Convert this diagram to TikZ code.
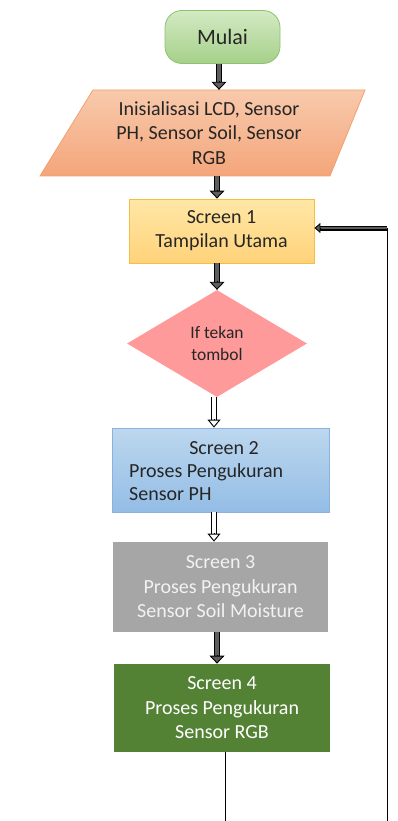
\documentclass[tikz,border=0pt]{standalone}
\usepackage{fontspec}
\setmainfont{Carlito}
\usetikzlibrary{shapes.geometric,arrows.meta,calc}
\definecolor{mulaiTop}{HTML}{D3EAC3}
\definecolor{mulaiBot}{HTML}{A6D08A}
\definecolor{mulaiLine}{HTML}{8CC26C}
\definecolor{paraTop}{HTML}{F8CAAC}
\definecolor{paraBot}{HTML}{F4A57A}
\definecolor{paraLine}{HTML}{F2A06E}
\definecolor{sOneTop}{HTML}{FFE7A6}
\definecolor{sOneBot}{HTML}{FFD27A}
\definecolor{sOneLine}{HTML}{F4BE45}
\definecolor{diaFill}{HTML}{FF9A9A}
\definecolor{sTwoTop}{HTML}{BDD7EE}
\definecolor{sTwoBot}{HTML}{93BDE6}
\definecolor{sTwoLine}{HTML}{8AB2DE}
\definecolor{sThree}{HTML}{A6A6A6}
\definecolor{sThreeText}{HTML}{F2F2F2}
\definecolor{sFour}{HTML}{548235}
\definecolor{arrowgray}{HTML}{5E5E5E}
\tikzset{
  txt/.style={font=\fontsize{20}{24.5}\selectfont, align=center, text=black!85},
  boxbase/.style={txt, rectangle, inner sep=0pt, line width=0.8pt},
  loopline/.style={line width=0.8pt, draw=black}
}
% block arrow between named coordinates: #1 start, #2 end, #3 inner colour,
% #4 outer shaft width, #5 inner shaft width, #6 head width, #7 head length
\newcommand\blockarr[7]{%
  \draw[line width=#4, draw=black, shorten >=#7-2pt] (#1) -- (#2);
  \draw[line width=#5, draw=#3, shorten >=#7-3pt] (#1) -- (#2);
  \draw[line width=0.9pt, draw=black,
    -{Triangle[width=#6,length=#7,fill=#3]}] ($(#2)!#7+1pt!(#1)$) -- (#2);
}
\begin{document}
\begin{tikzpicture}[x=1pt,y=-1pt]
\useasboundingbox (0,0) rectangle (398,821);

% Start
\node[boxbase, draw=mulaiLine, top color=mulaiTop, bottom color=mulaiBot,
      rounded corners=17pt, minimum width=115pt, minimum height=53pt,
      font=\fontsize{22}{26}\selectfont] (mul) at (222.5,37) {Mulai};

% Parallelogram
\shade[top color=paraTop, bottom color=paraBot, draw=paraLine, line width=0.8pt]
  (93,90) -- (365,90) -- (330,176) -- (40,176) -- cycle;
\node[txt, minimum height=86pt, inner sep=0pt] (para) at (209,133)
  {Inisialisasi LCD, Sensor\\PH, Sensor Soil, Sensor\\RGB};

% Screen 1
\node[boxbase, draw=sOneLine, top color=sOneTop, bottom color=sOneBot,
      minimum width=185pt, minimum height=64pt,
      font=\fontsize{20}{24}\selectfont] (s1) at (221.5,231)
  {Screen 1\\Tampilan Utama};

% Decision
\node[txt, diamond, aspect=1.68, fill=diaFill, inner sep=0pt,
      minimum width=180pt, minimum height=107pt,
      font=\fontsize{17.5}{22}\selectfont] (dia) at (217,343.5)
  {If tekan\\tombol};

% Screen 2
\node[boxbase, draw=sTwoLine, top color=sTwoTop, bottom color=sTwoBot,
      minimum width=217pt, minimum height=84pt] (s2) at (220.5,470) {};
\node[txt] (s2a) at (224,448) {Screen 2};
\node[txt, align=left, anchor=west, inner sep=0pt,
      font=\fontsize{20}{22.5}\selectfont] (s2b) at (129,482)
  {Proses Pengukuran\\Sensor PH};

% Screen 3
\node[boxbase, fill=sThree, text=sThreeText,
      minimum width=215pt, minimum height=90pt] (s3) at (220.5,587)
  {Screen 3\\Proses Pengukuran\\Sensor Soil Moisture};

% Screen 4
\node[boxbase, fill=sFour, text=white,
      minimum width=216pt, minimum height=88pt] (s4) at (222,708)
  {Screen 4\\Proses Pengukuran\\Sensor RGB};

% Arrow end points
\coordinate (xa) at (219,0);
\coordinate (xb) at (217,0);
\coordinate (xc) at (214,0);
\coordinate (xd) at (217,0);
\coordinate (a1s) at (mul.south -| xa);  \coordinate (a1e) at (para.north -| xa);
\coordinate (a2s) at (para.south -| xb); \coordinate (a2e) at (s1.north -| xb);
\coordinate (a3s) at (s1.south -| xb);   \coordinate (a3e) at (dia.north -| xb);
\coordinate (a4s) at (dia.south -| xc);  \coordinate (a4e) at (s2.north -| xc);
\coordinate (a5s) at (s2.south -| xc);   \coordinate (a5e) at (s3.north -| xc);
\coordinate (a6s) at (s3.south -| xd);   \coordinate (a6e) at (s4.north -| xd);

\blockarr{a1s}{a1e}{arrowgray}{5.8pt}{3.4pt}{15pt}{8pt}
\blockarr{a2s}{a2e}{arrowgray}{5.8pt}{3.4pt}{15pt}{8pt}
\blockarr{a3s}{a3e}{arrowgray}{5.8pt}{3.4pt}{15pt}{8pt}
\blockarr{a4s}{a4e}{white}{5.8pt}{3.4pt}{13pt}{8pt}
\blockarr{a5s}{a5e}{white}{5.8pt}{3.4pt}{13pt}{8pt}
\blockarr{a6s}{a6e}{arrowgray}{5.8pt}{3.4pt}{15pt}{8pt}

% Loop back
\coordinate (b1) at (225,821);
\coordinate (br) at (387,821);
\coordinate (cr) at (387,228);
\coordinate (ce) at (s1.east |- cr);
\draw[loopline] (s4.south -| b1) -- (b1);
\draw[loopline] (br) -- (cr);
\blockarr{cr}{ce}{arrowgray}{5pt}{2.8pt}{10pt}{6pt}
\end{tikzpicture}
\end{document}
